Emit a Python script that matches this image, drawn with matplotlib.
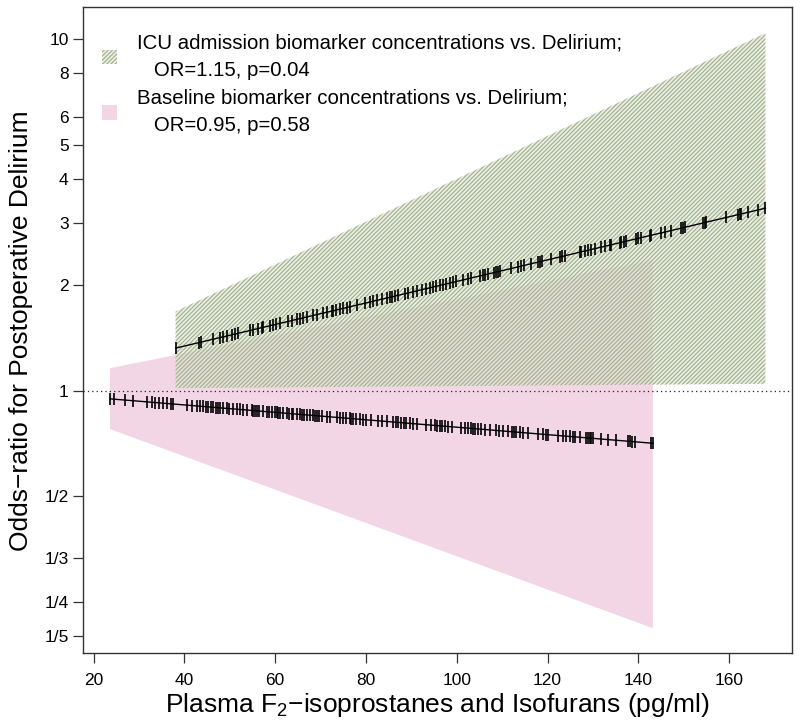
import numpy as np
import matplotlib
matplotlib.use("Agg")
import matplotlib.pyplot as plt
from matplotlib.patches import Patch

plt.rcParams['font.family'] = ['Liberation Sans', 'DejaVu Sans']
plt.rcParams['mathtext.fontset'] = 'custom'
plt.rcParams['mathtext.rm'] = 'Liberation Sans'
plt.rcParams['mathtext.it'] = 'Liberation Sans:italic'
plt.rcParams['hatch.linewidth'] = 0.9

# ---- data ----
# ICU admission model (green, hatched)
icu_x = [38.05, 168.0]
icu_fit = [1.32, 3.30]
icu_lo = [1.016, 1.045]
icu_hi = [1.677, 10.38]
icu_obs = [38.05, 43.26, 43.55, 46.34, 47.81, 48.4, 49.28, 50.38, 51.11, 51.85,
           54.42, 55.15, 56.25, 56.99, 57.35, 58.82, 59.56, 60.14, 61.03, 62.86,
           63.59, 64.69, 65.43, 66.16, 66.9, 68.37, 69.1, 70.57, 71.3, 72.4,
           72.77, 73.36, 74.24, 74.97, 75.71, 76.44, 77.91, 79.75, 80.85, 81.58,
           82.32, 83.42, 84.52, 85.25, 85.62, 86.36, 87.09, 88.56, 89.29, 90.39,
           91.13, 92.23, 93.33, 94.06, 94.8, 95.53, 96.27, 97.0, 97.73, 98.47,
           99.2, 99.94, 101.41, 102.51, 103.24, 105.07, 105.81, 106.32, 106.91,
           108.23, 108.75, 109.11, 109.48, 112.05, 113.52, 114.25, 114.84, 116.31,
           117.92, 118.29, 118.8, 120.71, 122.7, 123.21, 123.8, 127.1, 127.47,
           128.2, 128.94, 129.52, 130.4, 131.87, 132.61, 133.71, 134.08, 135.91,
           136.28, 136.86, 137.38, 139.58, 139.95, 140.68, 142.52, 142.89, 145.09,
           145.82, 147.15, 149.49, 149.86, 150.23, 154.27, 154.63, 155.0, 159.41,
           161.98, 162.34, 162.71, 164.18, 166.38, 168.0]

# Baseline model (pink)
base_x = [23.58, 143.2]
base_fit = [0.947, 0.708]
base_lo = [0.777, 0.211]
base_hi = [1.158, 2.35]
base_obs = [23.58, 24.46, 26.88, 28.7, 31.66, 32.76, 33.49, 34.45, 35.18, 36.06,
            36.94, 37.53, 40.6, 41.57, 42.67, 43.4, 44.13, 44.72, 45.24, 45.83,
            46.34, 46.93, 47.44, 47.81, 48.54, 49.28, 49.87, 50.6, 51.48, 52.2,
            52.94, 53.7, 54.8, 55.14, 55.5, 55.9, 56.47, 57.35, 58.1, 58.67,
            59.2, 59.92, 60.3, 60.65, 61.0, 61.75, 62.5, 63.07, 63.6, 63.95,
            64.7, 65.43, 65.8, 66.3, 66.9, 67.63, 68.36, 68.73, 69.1, 69.68,
            70.2, 71.3, 72.04, 73.5, 74.24, 74.97, 75.7, 76.44, 76.8, 77.17,
            77.9, 78.64, 79.37, 80.1, 81.2, 82.67, 83.42, 84.52, 85.99, 86.5,
            87.09, 87.82, 88.41, 88.92, 89.66, 90.39, 91.13, 93.33, 94.43, 95.17,
            95.75, 96.27, 96.85, 97.37, 98.1, 98.84, 100.89, 101.77, 102.51, 103.1,
            103.61, 103.98, 104.71, 105.45, 106.18, 107.28, 108.6, 109.26, 110.22,
            111.32, 112.2, 112.64, 113.15, 113.89, 114.62, 115.72, 117.93, 119.03,
            119.76, 120.13, 122.33, 123.43, 124.17, 124.9, 125.64, 126.0, 127.1,
            128.57, 128.94, 129.31, 129.67, 130.04, 131.88, 133.35, 135.18, 137.75,
            138.12, 138.63, 139.37, 142.89, 143.2]

y_ticks = [1/5, 1/4, 1/3, 1/2, 1, 2, 3, 4, 5, 6, 8, 10]
y_ticklabels = ['1/5', '1/4', '1/3', '1/2', '1', '2', '3', '4', '5', '6', '8', '10']
x_ticks = [20, 40, 60, 80, 100, 120, 140, 160]

icu_label = 'ICU admission biomarker concentrations vs. Delirium;\n   OR=1.15, p=0.04'
base_label = 'Baseline biomarker concentrations vs. Delirium;\n   OR=0.95, p=0.58'

PINK = '#f2d6e5'
GREEN_HATCH = '#a5b48e'
GREEN_FACE = (0.88, 0.90, 0.85, 0.6)
HATCH = '////////'


def on_line(xs, fx, fy):
    return np.exp(np.interp(xs, fx, np.log(fy)))


fig = plt.figure(figsize=(8, 7.24), dpi=100)
ax = fig.add_axes([0.1041, 0.0977, 0.8855, 0.8923])
ax.set_yscale('log')

ax.fill_between(base_x, base_lo, base_hi, facecolor=PINK, lw=0, zorder=1)
ax.fill_between(icu_x, icu_lo, icu_hi, facecolor=GREEN_FACE, lw=0, zorder=2)
ax.fill_between(icu_x, icu_lo, icu_hi, facecolor='none', edgecolor=GREEN_HATCH,
                hatch=HATCH, lw=0, zorder=2)

ax.axhline(1, color='#222222', ls=(0, (1, 2.5)), lw=0.9, zorder=3)

ax.plot(icu_x, icu_fit, color='black', lw=1, zorder=4)
ax.plot(icu_obs, on_line(icu_obs, icu_x, icu_fit), ls='none', marker='|',
        ms=9, mew=1.2, color='black', zorder=5)
ax.plot(base_x, base_fit, color='black', lw=1, zorder=4)
ax.plot(base_obs, on_line(base_obs, base_x, base_fit), ls='none', marker='|',
        ms=9, mew=1.2, color='black', zorder=5)

ax.set_xlim(17.7, 173.8)
ax.set_ylim(0.179, 12.3)
ax.set_yticks(y_ticks)
ax.set_yticklabels(y_ticklabels)
ax.yaxis.set_minor_locator(matplotlib.ticker.NullLocator())
ax.set_xticks(x_ticks)
ax.tick_params(direction='out', length=7.5, width=0.9, color='#333333',
               labelsize=12.5)
ax.tick_params(axis='x', pad=7)
ax.tick_params(axis='y', pad=3)
for s in ax.spines.values():
    s.set_color('#333333')
    s.set_linewidth(1.0)

ax.set_ylabel('Odds\u2212ratio for Postoperative Delirium', fontsize=19)
ax.yaxis.set_label_coords(-0.071, 0.5)
ax.set_xlabel('Plasma F$_{2}$\u2212isoprostanes and Isofurans (pg/ml)', fontsize=19)
ax.xaxis.set_label_coords(0.5, -0.058)

handles = [Patch(facecolor=GREEN_FACE, edgecolor=GREEN_HATCH, hatch=HATCH, lw=0),
           Patch(facecolor=PINK, lw=0)]
leg = ax.legend(handles, [icu_label, base_label], loc='upper left',
                bbox_to_anchor=(0.026, 0.959), frameon=False, fontsize=14.7,
                borderpad=0, borderaxespad=0, handlelength=0.77,
                handleheight=0.69, handletextpad=0.97, labelspacing=0.42)
for t in leg.get_texts():
    t.set_linespacing(1.57)

fig.savefig('out.png', dpi=100)
